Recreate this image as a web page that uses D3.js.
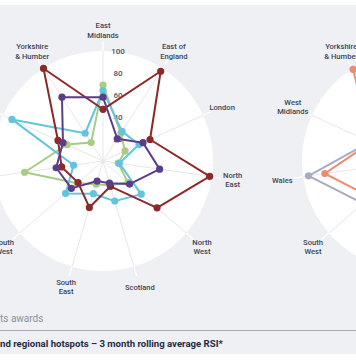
<!DOCTYPE html>
<html><head><meta charset="utf-8">
<script src="https://cdn.jsdelivr.net/npm/d3@7"></script>
<style>body{margin:0;background:#fff}svg{display:block}</style>
</head><body>
<svg id="c" width="356" height="364"></svg>
<script>
// ---- data ----
const categories = ["East Midlands","East of England","London","North East","North West","Scotland","South East","South West","Wales","West Midlands","Yorkshire & Humber"];
const labelLines = [["East","Midlands"],["East of","England"],["London"],["North","East"],["North","West"],["Scotland"],["South","East"],["South","West"],["Wales"],["West","Midlands"],["Yorkshire","& Humber"]];
const tickValues = [20,40,60,80,100];
// left chart series
const maroonValues = [47,97,47,98,65,24,44,30,38,45,100];
const purpleValues = [58,24,40,52,32,21,19,38,43,40,69];
const cyanValues   = [64,32,36,15,46,38,31,45,27,91,30];
const greenValues  = [69,30,22,14,30,23,22,31,72,36,20];
// right chart series (only western part visible)
const orangeValues = [70,60,55,40,45,50,45,50,80,41,99];
const greyValues   = [50,45,40,35,40,45,50,59,95,42,60];
const footnoteText = "ts awards";
const titleText = "nd regional hotspots – 3 month rolling average RSI*";

const svg = d3.select("#c");
const W = 356, H = 364;
svg.append("rect").attr("width",W).attr("height",H).attr("fill","#ffffff");
svg.append("rect").attr("x",0).attr("y",5).attr("width",W).attr("height",349).attr("fill","#eef0f4");

const r = d3.scaleLinear().domain([0,100]).range([0,110]);
const angle = d3.scaleLinear().domain([0,categories.length]).range([0,2*Math.PI]);
const font = "Roboto, 'Noto Sans', sans-serif";

function radar(cx, cy, seriesList, showTicks){
  const g = svg.append("g").attr("transform",`translate(${cx},${cy})`);
  g.append("circle").attr("r", r(100)).attr("fill","#ffffff");
  categories.forEach((c,i)=>{
    const a = angle(i);
    const sx = Math.sin(a), sy = -Math.cos(a);
    g.append("line").attr("x1",0).attr("y1",0).attr("x2",sx*r(100)).attr("y2",sy*r(100))
      .attr("stroke","#e6e7eb").attr("stroke-width",1);
    g.append("line").attr("x1",sx*r(100)).attr("y1",sy*r(100)).attr("x2",sx*r(109)).attr("y2",sy*r(109))
      .attr("stroke","#ffffff").attr("stroke-width",1.2);
    const lr = 131;
    const lines = labelLines[i];
    const t = g.append("text").attr("x",sx*lr).attr("y",sy*lr - (lines.length-1)*4.7)
      .attr("text-anchor","middle").attr("dominant-baseline","central")
      .attr("font-family",font).attr("font-size",7.6).attr("font-weight",500).attr("fill","#3a4556");
    lines.forEach((l,k)=>t.append("tspan").attr("x",sx*lr).attr("dy",k?9.4:0).text(l));
  });
  if(showTicks){
    tickValues.forEach(v=>{
      g.append("text").attr("x",15).attr("y",-r(v)).attr("text-anchor","middle").attr("dominant-baseline","central")
        .attr("font-family",font).attr("font-size",8).attr("font-weight",500).attr("fill","#4a5262").text(v);
    });
  }
  const line = d3.lineRadial().angle((d,i)=>angle(i)).radius(d=>r(d)).curve(d3.curveLinearClosed);
  seriesList.forEach(s=>{
    g.append("path").datum(s.values).attr("d",line).attr("fill","none")
      .attr("stroke",s.color).attr("stroke-width",2).attr("stroke-linejoin","round");
    g.selectAll(null).data(s.values).enter().append("circle")
      .attr("cx",(d,i)=>Math.sin(angle(i))*r(d)).attr("cy",(d,i)=>-Math.cos(angle(i))*r(d))
      .attr("r",3.6).attr("fill",s.color);
  });
}

radar(103,161,[
  {values:greenValues,color:"#a8cc86"},
  {values:cyanValues,color:"#62c4df"},
  {values:maroonValues,color:"#8c2a2a"},
  {values:purpleValues,color:"#5a3e8a"}
], true);
radar(412,161,[
  {values:greyValues,color:"#a9abc0"},
  {values:orangeValues,color:"#ee8a6d"}
], false);

// bottom texts
svg.append("text").attr("x",0).attr("y",318).attr("dominant-baseline","central")
  .attr("font-family",font).attr("font-size",10).attr("fill","#8c919b").text(footnoteText);
svg.append("line").attr("x1",0).attr("x2",W).attr("y1",330.5).attr("y2",330.5).attr("stroke","#a3a8b1").attr("stroke-width",1);
svg.append("text").attr("x",0).attr("y",343).attr("dominant-baseline","central")
  .attr("font-family",font).attr("font-size",9.6).attr("font-weight",700).attr("fill","#1f2b45").text(titleText);
</script>
</body></html>
